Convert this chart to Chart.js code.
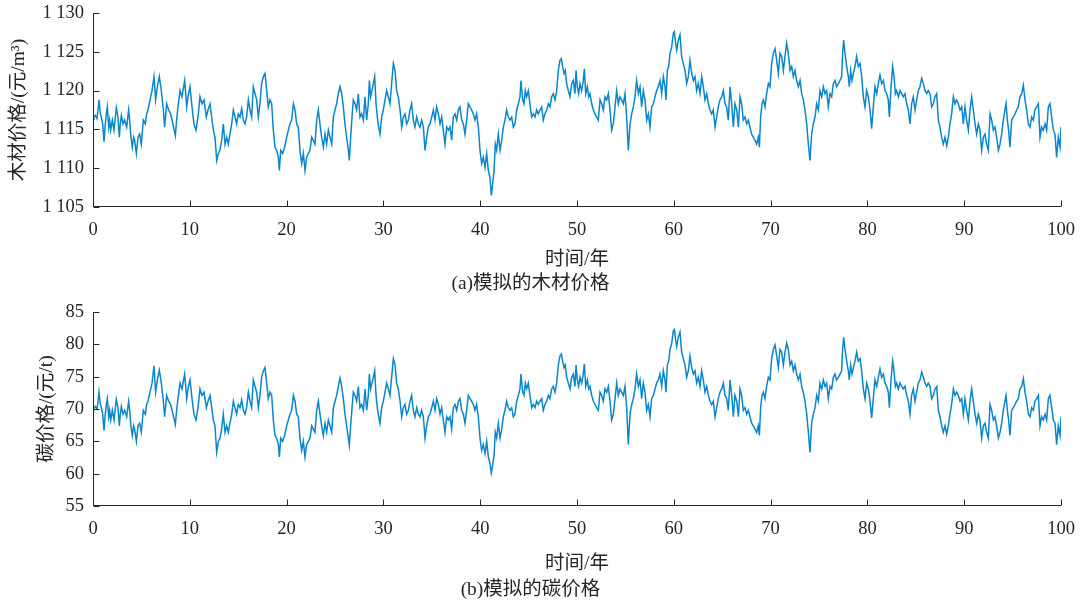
<!DOCTYPE html>
<html><head><meta charset="utf-8">
<script src="https://cdn.jsdelivr.net/npm/chart.js@4.4.0/dist/chart.umd.min.js"></script>
<style>
html,body{margin:0;padding:0;background:#fff;}
#wrap{position:relative;width:1084px;height:604px;overflow:hidden;}
.box{position:absolute;left:0;width:1084px;height:302px;}
</style></head><body>
<div id="wrap">
<div class="box" style="top:0"><canvas id="c1"></canvas></div>
<div class="box" style="top:302px"><canvas id="c2"></canvas></div>
</div>
<script>
// sample times (years) shared by both simulated series
const years = [
0,0.10,0.24,0.41,0.52,0.62,0.76,0.86,1.00,1.14,1.27,1.38,1.48,1.62,1.72,1.83,2.00,2.17,2.31,2.41,
2.58,2.72,2.82,2.93,3.10,3.27,3.48,3.68,3.79,3.89,4.06,4.20,4.30,4.48,4.65,4.82,4.99,5.20,5.41,5.54,
5.68,5.89,6.10,6.30,6.47,6.65,6.85,7.06,7.27,7.40,7.61,7.82,8.02,8.26,8.51,8.64,8.78,8.99,9.19,9.47,
9.68,9.81,10.02,10.23,10.43,10.64,10.85,11.05,11.26,11.47,11.71,11.88,
12.09,12.26,12.43,12.60,12.78,12.95,13.12,13.29,13.46,13.64,13.81,13.98,14.15,14.33,14.50,14.67,14.84,15.01,15.19,15.36,
15.53,15.70,15.87,16.05,16.22,16.39,16.56,16.74,16.91,17.08,17.25,17.42,17.60,17.77,17.94,18.11,18.29,18.46,18.63,18.80,
18.97,19.15,19.25,19.39,19.59,19.80,20.01,20.18,20.35,20.52,20.70,20.87,21.04,21.21,21.38,21.56,21.73,21.90,22.07,22.25,
22.42,22.59,22.76,22.93,23.11,23.28,23.45,23.62,23.80,23.97,24.14,24.31,
24.48,24.66,24.83,25.00,25.17,25.34,25.52,25.69,25.86,26.03,26.20,26.38,26.48,26.62,26.76,26.89,27.07,27.24,27.41,27.58,
27.75,27.93,28.10,28.27,28.44,28.55,28.68,28.82,28.96,29.10,29.24,29.37,29.51,29.65,29.82,29.99,30.17,30.34,30.51,30.68,
30.85,31.03,31.20,31.37,31.54,31.72,31.89,32.06,32.23,32.40,32.58,32.75,32.92,33.09,33.26,33.44,33.61,33.78,33.95,34.13,
34.30,34.47,34.64,34.81,34.99,35.16,35.33,35.50,35.68,35.85,36.02,36.19,36.36,36.54,36.71,
36.88,37.05,37.22,37.40,37.57,37.74,37.91,38.09,38.26,38.43,38.60,38.77,38.95,39.12,39.29,39.46,39.63,39.81,39.98,40.15,
40.32,40.50,40.67,40.84,41.01,41.15,41.29,41.43,41.56,41.70,41.87,42.05,42.22,42.39,42.56,42.73,42.91,43.08,43.25,43.42,
43.59,43.77,43.94,44.11,44.21,44.39,44.52,44.66,44.80,44.97,45.14,45.32,45.49,45.66,45.83,46.00,46.18,46.35,46.52,46.69,
46.87,47.04,47.21,47.38,47.55,47.73,47.90,48.07,48.24,48.38,48.52,48.66,48.79,48.93,49.10,
49.28,49.45,49.62,49.79,49.90,50.03,50.17,50.31,50.48,50.65,50.76,50.90,51.07,51.21,51.34,51.52,51.69,51.86,52.03,52.20,
52.38,52.55,52.72,52.89,53.07,53.24,53.41,53.58,53.75,53.93,54.10,54.27,54.44,54.61,54.79,54.96,55.13,55.30,55.48,55.65,
55.82,55.99,56.16,56.34,56.51,56.68,56.85,57.02,57.20,57.37,57.54,57.71,57.89,58.06,58.23,58.40,58.57,58.75,58.92,59.09,
59.19,59.33,59.47,59.61,59.78,59.95,60.06,60.19,60.30,60.47,60.64,60.81,60.98,61.16,61.33,61.50,
61.67,61.85,62.02,62.19,62.36,62.53,62.71,62.88,63.05,63.22,63.40,63.57,63.74,63.91,64.08,64.26,64.43,64.60,64.77,64.95,
65.12,65.29,65.46,65.63,65.81,65.98,66.15,66.32,66.50,66.67,66.84,67.01,67.18,67.36,67.53,67.70,67.87,68.04,68.22,68.39,
68.56,68.73,68.84,68.97,69.11,69.25,69.42,69.59,69.77,69.94,70.11,70.28,70.46,70.63,70.80,70.97,71.14,71.32,71.49,71.66,
71.83,72.01,72.18,72.35,72.52,72.69,72.87,73.04,73.21,73.38,73.55,73.73,73.90,
74.07,74.24,74.41,74.59,74.76,74.93,75.10,75.28,75.45,75.62,75.79,75.96,76.14,76.31,76.48,76.65,76.82,77.00,77.17,77.34,
77.44,77.55,77.69,77.86,78.03,78.13,78.27,78.41,78.55,78.72,78.89,79.06,79.24,79.41,79.58,79.75,79.92,80.10,80.27,80.44,
80.61,80.78,80.96,81.13,81.30,81.47,81.65,81.82,81.99,82.16,82.27,82.44,82.61,82.75,82.89,83.02,83.20,83.37,83.54,83.71,
83.88,84.06,84.23,84.40,84.57,84.74,84.92,85.09,85.26,85.43,85.61,85.78,85.95,86.12,86.29,
86.47,86.64,86.81,86.98,87.16,87.33,87.50,87.67,87.84,88.02,88.19,88.36,88.53,88.70,88.88,89.05,89.22,89.39,89.57,89.74,
89.91,90.08,90.25,90.43,90.60,90.77,90.94,91.12,91.29,91.46,91.63,91.80,91.98,92.15,92.32,92.49,92.67,92.84,93.01,93.18,
93.35,93.53,93.70,93.87,94.04,94.21,94.32,94.46,94.59,94.73,94.90,95.08,95.25,95.42,95.59,95.76,95.94,96.11,96.28,96.45,
96.63,96.80,96.97,97.14,97.31,97.49,97.66,97.83,98.00,98.17,98.35,98.52,98.69,98.86,99.04,99.21,99.38,99.55,99.72,99.90,
100
];
const timberPrice = [
1116.3,1116.6,1116.8,1116.4,1117.5,1118.8,1117.0,1116.6,1115.7,1113.4,1115.7,1117.0,1117.9,1115.3,1116.2,1114.9,1116.2,1114.9,1116.6,1117.8,
1116.6,1114.0,1115.7,1116.8,1115.7,1116.2,1115.3,1117.5,1116.2,1114.4,1112.7,1114.0,1113.6,1111.9,1114.0,1114.4,1113.1,1116.2,1115.7,1117.0,
1117.5,1118.8,1120.0,1121.8,1118.8,1120.5,1121.8,1120.0,1117.5,1115.3,1118.3,1117.5,1117.0,1115.7,1114.2,1116.2,1117.9,1120.0,1119.2,1121.3,
1117.9,1119.2,1120.5,1117.9,1115.7,1114.9,1116.6,1119.2,1118.3,1118.8,1116.6,1117.5,
1118.3,1116.6,1114.9,1114.0,1111.0,1111.9,1112.3,1113.6,1115.7,1113.1,1114.0,1113.1,1114.4,1115.7,1117.5,1116.6,1115.7,1117.0,1116.6,1117.7,
1116.2,1115.7,1116.6,1118.8,1117.5,1116.6,1120.5,1119.6,1118.8,1116.6,1118.3,1120.9,1121.8,1122.2,1120.0,1117.9,1118.8,1118.3,1114.9,1112.7,
1112.3,1111.4,1109.7,1112.3,1111.9,1112.7,1114.0,1114.9,1115.7,1116.2,1118.3,1117.5,1115.7,1115.3,1112.3,1110.6,1111.9,1109.7,1111.4,1111.9,
1112.3,1114.0,1113.6,1113.1,1116.2,1117.5,1115.7,1114.0,1112.7,1114.4,1113.1,1114.9,
1114.0,1113.1,1116.6,1117.5,1118.3,1119.6,1120.5,1119.6,1117.9,1115.7,1114.0,1112.3,1111.0,1114.0,1116.6,1118.8,1118.3,1117.5,1119.6,1116.6,
1117.0,1116.2,1119.2,1116.2,1118.3,1121.3,1119.2,1120.0,1120.9,1121.8,1118.3,1116.6,1115.3,1114.4,1116.6,1117.5,1118.8,1120.0,1119.2,1118.3,
1120.9,1123.5,1122.6,1120.0,1119.2,1117.5,1115.3,1116.6,1117.0,1115.7,1116.2,1117.5,1118.3,1116.2,1115.3,1116.6,1115.7,1115.3,1116.2,1115.3,
1112.3,1114.0,1115.3,1115.7,1116.6,1117.5,1116.2,1117.9,1117.0,1115.7,1116.6,1114.9,1113.1,1115.3,1114.9,
1115.3,1113.6,1116.6,1117.0,1116.2,1117.5,1117.9,1116.2,1115.7,1114.4,1116.2,1118.3,1117.9,1117.5,1117.0,1116.2,1117.0,1115.3,1112.3,1110.6,
1111.4,1110.1,1111.9,1109.7,1108.8,1106.5,1108.0,1109.7,1113.1,1112.3,1114.4,1112.3,1113.6,1115.3,1116.2,1117.5,1116.6,1116.2,1116.6,1115.3,
1115.7,1117.5,1118.3,1119.2,1121.3,1118.8,1118.3,1120.0,1119.2,1120.0,1118.3,1116.6,1117.0,1116.6,1117.5,1117.0,1117.5,1117.9,1116.2,1117.0,
1117.5,1118.3,1117.9,1119.2,1119.6,1118.8,1120.0,1122.6,1123.9,1124.1,1123.1,1122.2,1122.6,1120.9,1120.0,
1119.2,1120.9,1121.3,1119.6,1122.6,1120.5,1119.6,1120.9,1120.0,1121.3,1122.8,1119.6,1120.5,1119.2,1119.6,1118.3,1117.5,1117.0,1116.6,1116.2,
1118.8,1118.3,1117.5,1119.2,1118.8,1119.6,1117.5,1114.9,1115.7,1117.9,1120.0,1118.3,1119.2,1118.8,1118.3,1119.6,1116.6,1112.3,1115.7,1117.0,
1117.9,1119.2,1121.3,1119.6,1120.5,1117.9,1120.0,1118.8,1116.2,1117.0,1115.3,1117.9,1118.3,1119.2,1120.0,1120.5,1121.3,1119.6,1121.8,1120.5,
1118.8,1122.6,1123.1,1124.8,1125.6,1127.4,1127.6,1126.1,1125.2,1126.5,1127.2,1124.4,1123.5,1122.6,1120.9,1121.8,
1123.9,1122.2,1121.3,1121.8,1120.0,1120.9,1119.6,1121.8,1120.5,1118.8,1119.6,1118.3,1117.5,1117.0,1117.5,1115.3,1116.6,1117.9,1118.8,1119.2,
1120.0,1118.3,1117.9,1116.2,1120.5,1118.3,1115.3,1118.3,1117.5,1115.3,1119.2,1118.3,1116.2,1116.6,1115.7,1116.2,1115.3,1114.4,1114.0,1113.6,
1113.1,1114.0,1112.7,1116.6,1118.3,1118.8,1117.9,1119.6,1120.9,1120.5,1123.5,1124.8,1125.4,1123.9,1122.2,1124.8,1124.4,1122.6,1124.4,1126.1,
1124.8,1122.6,1123.1,1121.8,1122.6,1121.3,1120.5,1121.3,1119.6,1118.8,1117.5,1115.7,1113.1,
1111.0,1114.4,1115.7,1116.6,1118.3,1117.5,1120.0,1119.2,1120.5,1119.6,1120.0,1117.9,1119.6,1119.2,1120.9,1121.3,1120.5,1120.9,1121.3,1121.8,
1124.8,1126.5,1124.8,1123.1,1121.8,1120.5,1122.6,1121.3,1122.2,1123.1,1124.4,1123.1,1123.5,1121.8,1119.2,1117.9,1120.0,1119.2,1117.5,1115.1,
1117.9,1120.5,1119.6,1120.9,1122.0,1120.9,1121.3,1120.0,1119.6,1118.8,1116.6,1120.5,1123.1,1121.8,1119.6,1120.0,1119.2,1120.0,1119.6,1119.2,
1119.6,1118.3,1117.5,1115.7,1118.3,1119.2,1117.5,1118.8,1120.0,1120.5,1121.6,1120.9,1120.0,1119.6,1120.0,
1119.6,1117.9,1118.3,1119.2,1119.6,1116.2,1115.3,1114.0,1113.1,1114.0,1112.9,1114.0,1115.7,1117.0,1119.2,1118.3,1118.8,1118.3,1117.5,1117.9,
1115.7,1117.9,1116.2,1114.9,1117.5,1119.2,1117.5,1115.7,1114.4,1115.7,1114.9,1112.3,1114.0,1114.4,1113.1,1112.3,1117.0,1116.2,1114.9,1115.3,
1114.0,1112.3,1113.1,1114.4,1116.2,1117.5,1118.3,1116.2,1114.9,1112.7,1116.2,1116.6,1117.0,1117.5,1117.9,1119.2,1119.6,1120.7,1118.8,1117.5,
1115.7,1115.3,1116.6,1116.2,1117.5,1117.9,1118.3,1114.0,1115.3,1114.9,1115.7,1114.9,1117.9,1118.3,1116.6,1114.9,1114.4,1111.4,1114.0,1112.7,
1115.3
];
const carbonPrice = [
69.9,70.2,70.4,70.0,71.2,72.6,70.7,70.2,69.2,66.7,69.2,70.7,71.6,68.8,69.8,68.3,69.8,68.3,70.2,71.5,
70.2,67.4,69.2,70.4,69.2,69.8,68.8,71.2,69.8,67.8,65.9,67.4,66.9,65.0,67.4,67.8,66.4,69.8,69.2,70.7,
71.2,72.6,74.0,76.7,72.6,74.5,76.0,74.0,71.2,68.8,72.1,71.2,70.7,69.2,67.6,69.8,71.6,74.0,73.1,75.4,
71.6,73.1,74.5,71.6,69.2,68.3,70.2,73.1,72.1,72.6,70.2,71.2,
72.1,70.2,68.3,67.4,63.3,65.0,65.5,66.9,69.2,66.4,67.4,66.4,67.8,69.2,71.2,70.2,69.2,70.7,70.2,71.4,
69.8,69.2,70.2,72.6,71.2,70.2,74.5,73.5,72.6,70.2,72.1,74.9,75.9,76.4,74.0,71.6,72.6,72.1,68.3,65.9,
65.5,64.5,62.6,65.5,65.0,65.9,67.4,68.3,69.2,69.8,72.1,71.2,69.2,68.8,65.5,63.6,65.0,62.6,64.5,65.0,
65.5,67.4,66.9,66.4,69.8,71.2,69.2,67.4,65.9,67.8,66.4,68.3,
67.4,66.4,70.2,71.2,72.1,73.5,74.8,73.5,71.6,69.2,67.4,65.5,64.4,67.4,70.2,72.6,72.1,71.2,73.5,70.2,
70.7,69.8,73.1,69.8,72.1,75.4,73.1,74.0,74.9,75.9,72.1,70.2,68.8,67.8,70.2,71.2,72.6,74.0,73.1,72.1,
74.9,77.8,76.8,74.0,73.1,71.2,68.8,70.2,70.7,69.2,69.8,71.2,72.1,69.8,68.8,70.2,69.2,68.8,69.8,68.8,
65.5,67.4,68.8,69.2,70.2,71.2,69.8,71.6,70.7,69.2,70.2,68.3,66.4,68.8,68.3,
68.8,66.9,70.2,70.7,69.8,71.2,71.6,69.8,69.2,67.8,69.8,72.1,71.6,71.2,70.7,69.8,70.7,68.8,65.5,63.6,
64.5,63.1,65.0,62.6,61.6,60.1,61.3,62.8,66.4,65.5,67.8,65.5,66.9,68.8,69.8,71.2,70.2,69.8,70.2,68.8,
69.2,71.2,72.1,73.1,75.4,72.6,72.1,74.0,73.1,74.0,72.1,70.2,70.7,70.2,71.2,70.7,71.2,71.6,69.8,70.7,
71.2,72.1,71.6,73.1,73.5,72.6,74.0,76.8,78.2,78.5,77.4,76.4,76.8,74.9,74.0,
73.1,74.9,75.4,73.5,76.8,74.5,73.5,74.9,74.0,75.4,77.0,73.5,74.5,73.1,73.5,72.1,71.2,70.7,70.2,69.8,
72.6,72.1,71.2,73.1,72.6,73.5,71.2,68.3,69.2,71.6,74.0,72.1,73.1,72.6,72.1,73.5,70.2,64.5,69.2,70.7,
71.6,73.1,75.4,73.5,74.5,71.6,74.0,72.6,69.8,70.7,68.8,71.6,72.1,73.1,74.0,74.5,75.4,73.5,75.9,74.5,
72.6,76.8,77.4,79.2,80.1,82.1,82.3,80.7,79.7,81.1,81.9,78.8,77.8,76.8,74.9,75.9,
78.2,76.4,75.4,75.9,74.0,74.9,73.5,75.9,74.5,72.6,73.5,72.1,71.2,70.7,71.2,68.8,70.2,71.6,72.6,73.1,
74.0,72.1,71.6,69.8,74.5,72.1,68.8,72.1,71.2,68.8,73.1,72.1,69.8,70.2,69.2,69.8,68.8,67.8,67.4,66.9,
66.4,67.4,65.9,70.2,72.1,72.6,71.6,73.5,74.9,74.5,77.8,79.2,79.9,78.2,76.4,79.2,78.8,76.8,78.8,80.2,
79.2,76.8,77.4,75.9,76.8,75.4,74.5,75.4,73.5,72.6,71.2,69.2,66.4,
63.3,67.8,69.2,70.2,72.1,71.2,74.0,73.1,74.5,73.5,74.0,71.6,73.5,73.1,74.9,75.4,74.5,74.9,75.4,75.9,
79.2,81.1,79.2,77.4,75.9,74.5,76.8,75.4,76.4,77.4,78.8,77.4,77.8,75.9,73.1,71.6,74.0,73.1,71.2,68.6,
71.6,74.5,73.5,74.9,76.2,74.9,75.4,74.0,73.5,72.6,70.2,74.5,77.4,75.9,73.5,74.0,73.1,74.0,73.5,73.1,
73.5,72.1,71.2,69.2,72.1,73.1,71.2,72.6,74.0,74.5,75.7,74.9,74.0,73.5,74.0,
73.5,71.6,72.1,73.1,73.5,69.8,68.8,67.4,66.4,67.4,66.1,67.4,69.2,70.7,73.1,72.1,72.6,72.1,71.2,71.6,
69.2,71.6,69.8,68.3,71.2,73.1,71.2,69.2,67.8,69.2,68.3,65.5,67.4,67.8,66.4,65.5,70.7,69.8,68.3,68.8,
67.4,65.5,66.4,67.8,69.8,71.2,72.1,69.8,68.3,65.9,69.8,70.2,70.7,71.2,71.6,73.1,73.5,74.7,72.6,71.2,
69.2,68.8,70.2,69.8,71.2,71.6,72.1,67.4,68.8,68.3,69.2,68.3,71.6,72.1,70.2,68.3,67.8,64.5,67.4,65.9,
68.8
];
const xTickValues = [0,10,20,30,40,50,60,70,80,90,100];
const timberTickValues = [1105,1110,1115,1120,1125,1130];
const carbonTickValues = [55,60,65,70,75,80,85];

const FONT = "'Liberation Serif','Noto Sans CJK SC',serif";
const INK = '#262626';
const LINE = '#0a86cb';

const axesPlugin = {
  id: 'axesInward',
  afterDatasetsDraw(chart) {
    const {ctx, chartArea: a, scales: {x, y}} = chart;
    ctx.save();
    ctx.strokeStyle = INK; ctx.lineWidth = 1;
    ctx.beginPath();
    const L = Math.round(a.left) + 0.5, B = Math.round(a.bottom) - 0.5;
    ctx.moveTo(L, Math.round(a.top)); ctx.lineTo(L, B);
    ctx.lineTo(Math.round(a.right), B);
    x.ticks.forEach(t => { const px = Math.round(x.getPixelForValue(t.value)) + 0.5; ctx.moveTo(px, B); ctx.lineTo(px, B - 6); });
    y.ticks.forEach(t => { const py = Math.round(y.getPixelForValue(t.value)) + 0.5; ctx.moveTo(L, py); ctx.lineTo(L + 6, py); });
    ctx.stroke();
    ctx.restore();
  }
};

function fmtThousands(v) {
  const s = String(v);
  return s.length > 3 ? s.slice(0, s.length - 3) + ' ' + s.slice(-3) : s;
}

function makeChart(id, xs, values, yTicks, yTitle, caption, cfg) {
  const pts = xs.map((t, i) => ({x: t, y: values[i]}));
  return new Chart(document.getElementById(id), {
    type: 'line',
    data: { datasets: [{ data: pts, borderColor: LINE, borderWidth: 1.5, pointRadius: 0, tension: 0, fill: false }] },
    options: {
      responsive: true, maintainAspectRatio: false, animation: false,
      layout: { autoPadding: false, padding: { left: 0, right: 23, top: cfg.top, bottom: 0 } },
      plugins: {
        legend: { display: false }, tooltip: { enabled: false },
        title: { display: true, text: caption, position: 'bottom', color: INK,
                 font: { family: FONT, size: 19.5, weight: 'normal', lineHeight: 1 }, padding: { top: cfg.capTop, bottom: cfg.capBottom } }
      },
      scales: {
        x: {
          type: 'linear', min: 0, max: 100,
          afterBuildTicks: s => { s.ticks = xTickValues.map(v => ({value: v})); },
          afterFit: s => { s.height = cfg.xh; s.paddingLeft = 0; s.paddingRight = 0; },
          grid: { display: false, drawTicks: false }, border: { display: false },
          ticks: { color: INK, font: { family: FONT, size: 18.5 }, padding: 12, maxRotation: 0 },
          title: { display: true, text: '时间/年', color: INK, font: { family: FONT, size: 19.5, lineHeight: 1 }, padding: { top: cfg.xtPad, bottom: 0 } }
        },
        y: {
          min: yTicks[0], max: yTicks[yTicks.length - 1],
          afterBuildTicks: s => { s.ticks = yTicks.map(v => ({value: v})); },
          afterFit: s => { s.width = 93; s.paddingTop = 0; s.paddingBottom = 0; },
          grid: { display: false, drawTicks: false }, border: { display: false },
          ticks: { color: INK, font: { family: FONT, size: 18.5 }, padding: 9, callback: v => fmtThousands(v) },
          title: { display: true, text: yTitle, color: INK, font: { family: FONT, size: 19.5, lineHeight: 1 }, padding: { top: cfg.ytPad, bottom: 0 } }
        }
      }
    },
    plugins: [axesPlugin]
  });
}

makeChart('c1', years, timberPrice, timberTickValues, '木材价格/(元/m³)', '(a)模拟的木材价格',
  { top: 13, xh: 62.75, xtPad: 0.5, capTop: 4.0, capBottom: 8.75, ytPad: 8.75 });
makeChart('c2', years, carbonPrice, carbonTickValues, '碳价格/(元/t)', '(b)模拟的碳价格',
  { top: 10, xh: 67.75, xtPad: 0.5, capTop: 6.0, capBottom: 4.75, ytPad: 36.75 });
</script>
</body></html>
